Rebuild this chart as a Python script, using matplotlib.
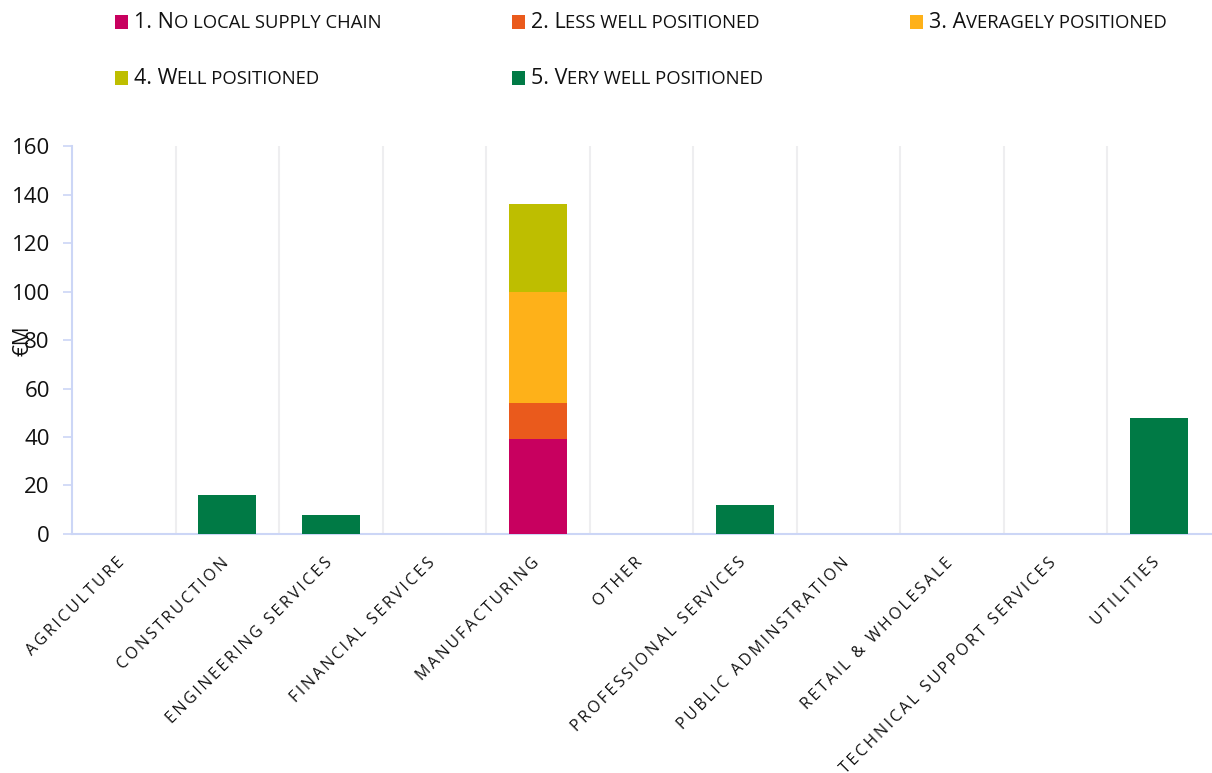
import matplotlib
matplotlib.use("Agg")
import matplotlib.pyplot as plt
import matplotlib.transforms as mtransforms
from matplotlib.patches import Rectangle
from matplotlib.offsetbox import TextArea, DrawingArea, HPacker, AnchoredOffsetbox
import numpy as np

plt.rcParams['font.family'] = ['Open Sans', 'DejaVu Sans']

sectors = ["Agriculture", "Construction", "Engineering services", "Financial services",
           "Manufacturing", "Other", "Professional services", "Public adminstration",
           "Retail & wholesale", "Technical support services", "Utilities"]

series = ["1. No local supply chain", "2. Less well positioned", "3. Averagely positioned",
          "4. Well positioned", "5. Very well positioned"]
colors = ["#C8005F", "#EA5A1C", "#FEB119", "#BEBE00", "#007A45"]

# values in €M per sector, one list per series
no_local = [0, 0, 0, 0, 39, 0, 0, 0, 0, 0, 0]
less_well = [0, 0, 0, 0, 15, 0, 0, 0, 0, 0, 0]
averagely = [0, 0, 0, 0, 46, 0, 0, 0, 0, 0, 0]
well = [0, 0, 0, 0, 36, 0, 0, 0, 0, 0, 0]
very_well = [0, 16, 8, 0, 0, 0, 12, 0, 0, 0, 48]
values = [no_local, less_well, averagely, well, very_well]

axis_col = "#CCD6F6"
grid_col = "#EEEEF0"

fig = plt.figure(figsize=(12.12, 7.73), dpi=100)
ax = fig.add_axes([0.0594, 0.3092, 0.9396, 0.5019])

x = np.arange(len(sectors))
bottom = np.zeros(len(sectors))
for name, col, vals in zip(series, colors, values):
    v = np.array(vals, dtype=float)
    ax.bar(x, v, width=0.56, bottom=bottom, color=col, label=name, zorder=3)
    bottom += v

ax.set_xlim(-0.5, len(sectors) - 0.5)
ax.set_ylim(0, 160)
ax.set_yticks(np.arange(0, 161, 20))
ax.tick_params(axis='y', labelsize=16, length=6.5, width=1.2, color=axis_col, pad=9.5,
               labelcolor="#111111")

# vertical grid lines between categories
for b in np.arange(0.5, len(sectors) - 0.5, 1):
    ax.axvline(b, color=grid_col, lw=1.5, zorder=1)

for s in ['top', 'right']:
    ax.spines[s].set_visible(False)
ax.spines['left'].set_color(axis_col)
ax.spines['bottom'].set_color(axis_col)
ax.spines['left'].set_linewidth(1.5)
ax.spines['bottom'].set_linewidth(1.5)

# letter-spaced uppercase labels
spaced = ['\u2009'.join(s.upper()) for s in sectors]
ax.set_xticks(x)
ax.set_xticklabels(spaced, rotation=45, ha='right', va='top', rotation_mode='anchor',
                   fontsize=11.5, color="#111111")
ax.tick_params(axis='x', length=0, pad=15)
offset = mtransforms.ScaledTranslation(-5 / 72, 0, fig.dpi_scale_trans)
for lab in ax.get_xticklabels():
    lab.set_transform(lab.get_transform() + offset)

ax.set_ylabel("€M", fontsize=15, color="#111111")
ax.yaxis.set_label_coords(-0.034, 0.497)

# legend with small caps style labels
legend_pos = [(0.0949, 0.9715), (0.4224, 0.9715), (0.7508, 0.9715),
              (0.0949, 0.899), (0.4224, 0.899)]
for name, col, (lx, ly) in zip(series, colors, legend_pos):
    da = DrawingArea(9.5, 9.5, 0, 0)
    da.add_artist(Rectangle((0, 0), 9.5, 9.5, fc=col, ec='none'))
    head = TextArea(name[:4], textprops=dict(fontsize=15.5, color="#111111"))
    tail = TextArea(name[4:].upper(), textprops=dict(fontsize=13.3, color="#111111"))
    txt = HPacker(children=[head, tail], align='baseline', pad=0, sep=0)
    box = HPacker(children=[da, txt], align='center', pad=0, sep=4)
    ab = AnchoredOffsetbox(loc='center left', child=box, frameon=False, pad=0, borderpad=0,
                           bbox_to_anchor=(lx, ly), bbox_transform=fig.transFigure)
    fig.add_artist(ab)

fig.savefig("out.png", dpi=100)
